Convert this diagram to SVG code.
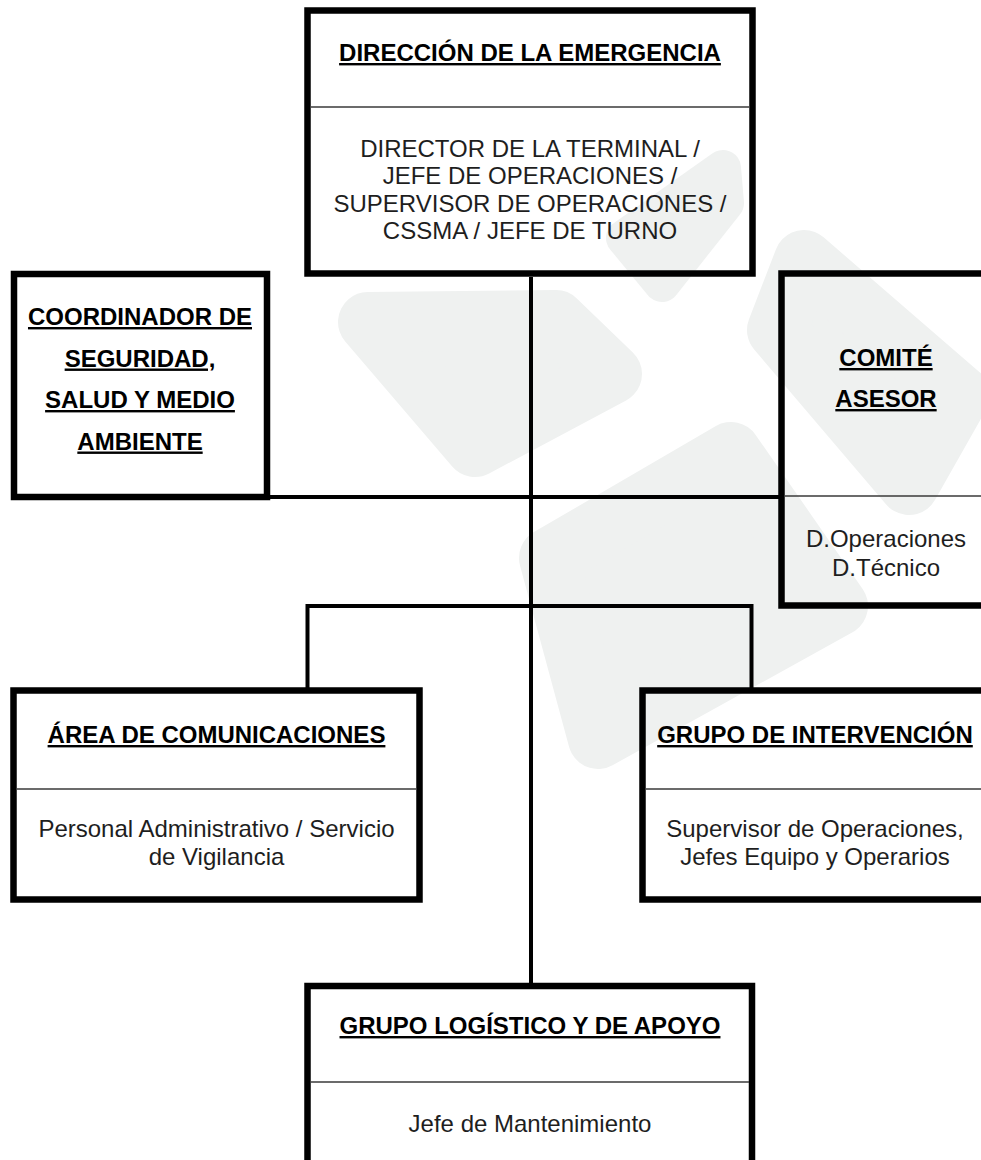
<svg xmlns="http://www.w3.org/2000/svg" width="981" height="1160" viewBox="0 0 981 1160">
<style>
.wm{fill:#eff1f0;stroke:#eff1f0;stroke-linejoin:round}
.box{fill:none;stroke:#000;stroke-width:6.5}
.div{stroke:#3a3a3a;stroke-width:1.6}
.con{fill:none;stroke:#000;stroke-width:4}
.t{font-family:"Liberation Sans",Arial,sans-serif;font-size:24px;font-weight:bold;fill:#000;text-anchor:middle;text-decoration:underline}
.b{font-family:"Liberation Sans",Arial,sans-serif;font-size:24px;fill:#1e1e1e;text-anchor:middle}
</style>
<rect width="981" height="1160" fill="#fff"/>
<g id="watermark">
<polygon class="wm" stroke-width="36" points="723,168 726,203 662,284 624,238"/>
<polygon class="wm" stroke-width="60" points="368,322 556,320 612,374 475,447"/>
<polygon class="wm" stroke-width="60" points="804,260 960,395 909,485 777,330"/>
<polygon class="wm" stroke-width="60" points="731,452 838,606 598,739 549,558"/>
</g>
<g id="connectors">
<line class="con" x1="531" y1="277" x2="531" y2="984"/>
<line class="con" x1="268" y1="497" x2="780" y2="497"/>
<path class="con" d="M307.5,688 V606 H751.5 V688"/>
</g>
<g id="direccion">
<rect class="box" x="307.5" y="10.5" width="445" height="263"/>
<line class="div" x1="311" y1="107" x2="749" y2="107"/>
<text class="t" x="530" y="61">DIRECCIÓN DE LA EMERGENCIA</text>
<text class="b" x="530" y="157">DIRECTOR DE LA TERMINAL /</text>
<text class="b" x="530" y="184">JEFE DE OPERACIONES /</text>
<text class="b" x="530" y="211.5">SUPERVISOR DE OPERACIONES /</text>
<text class="b" x="530" y="239">CSSMA / JEFE DE TURNO</text>
</g>
<g id="coordinador">
<rect class="box" x="14" y="274" width="253" height="223"/>
<text class="t" x="140" y="325">COORDINADOR DE</text>
<text class="t" x="140" y="366.5">SEGURIDAD,</text>
<text class="t" x="140" y="408">SALUD Y MEDIO</text>
<text class="t" x="140" y="449.5">AMBIENTE</text>
</g>
<g id="comite">
<rect class="box" x="781.5" y="273.5" width="220" height="332"/>
<line class="div" x1="785" y1="496" x2="981" y2="496"/>
<text class="t" x="886" y="366">COMITÉ</text>
<text class="t" x="886" y="407">ASESOR</text>
<text class="b" x="886" y="547">D.Operaciones</text>
<text class="b" x="886" y="576">D.Técnico</text>
</g>
<g id="comunicaciones">
<rect class="box" x="13.5" y="690.5" width="406" height="209"/>
<line class="div" x1="17" y1="789" x2="416" y2="789"/>
<text class="t" x="216.5" y="743">ÁREA DE COMUNICACIONES</text>
<text class="b" x="216.5" y="837">Personal Administrativo / Servicio</text>
<text class="b" x="216.5" y="865">de Vigilancia</text>
</g>
<g id="intervencion">
<rect class="box" x="642.5" y="690.5" width="360" height="209"/>
<line class="div" x1="646" y1="789" x2="981" y2="789"/>
<text class="t" x="815" y="743">GRUPO DE INTERVENCIÓN</text>
<text class="b" x="815" y="837">Supervisor de Operaciones,</text>
<text class="b" x="815" y="865">Jefes Equipo y Operarios</text>
</g>
<g id="logistico">
<rect class="box" x="307.5" y="986" width="444.5" height="200"/>
<line class="div" x1="311" y1="1082" x2="749" y2="1082"/>
<text class="t" x="530" y="1034">GRUPO LOGÍSTICO Y DE APOYO</text>
<text class="b" x="530" y="1132">Jefe de Mantenimiento</text>
</g>
</svg>
